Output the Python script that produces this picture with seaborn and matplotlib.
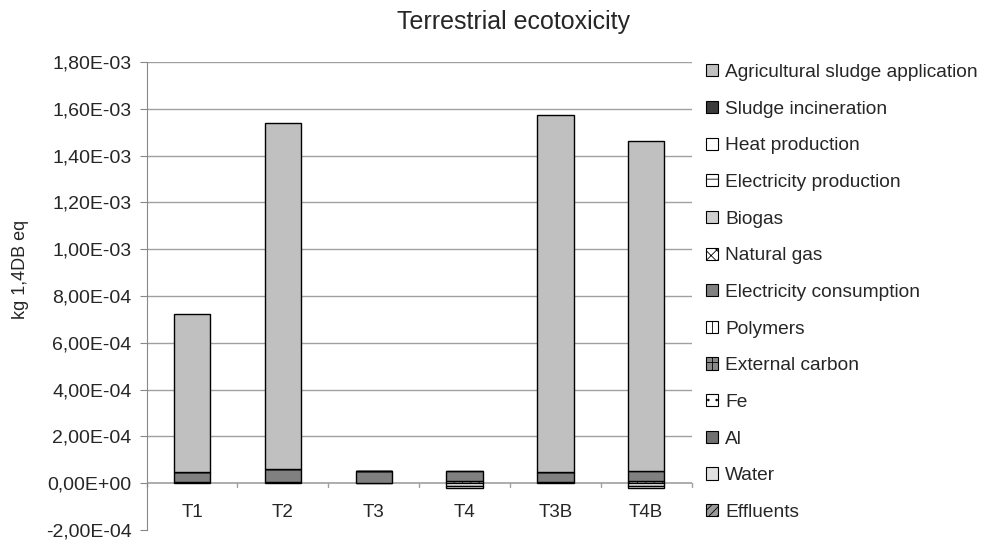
import numpy as np
import pandas as pd
import matplotlib
matplotlib.use("Agg")
import matplotlib.pyplot as plt
import seaborn as sns
from matplotlib.patches import Patch
from matplotlib.ticker import FuncFormatter

# categories and series (bottom of stack first, as in the Excel chart)
scenarios = ["T1", "T2", "T3", "T4", "T3B", "T4B"]

effluents = [0, 0, 0, 0, 0, 0]
water = [0, 0, 0, 0, 0, 0]
al = [0, 0, 0, 0, 0, 0]
fe = [0, 0, 0, 0, 0, 0]
external_carbon = [0, 0, 0, 0, 0, 0]
polymers = [4e-6, 4e-6, 2e-6, 1.0e-5, 4e-6, 1.0e-5]
electricity_consumption = [4.6e-5, 5.6e-5, 4.9e-5, 4.1e-5, 4.6e-5, 4.1e-5]
natural_gas = [0, 0, 0, 0, 0, 0]
biogas = [0, 0, 0, 0, 0, 0]
electricity_production = [0, 0, 0, -1.0e-5, 0, -1.0e-5]
heat_production = [0, 0, 0, -1.2e-5, 0, -1.2e-5]
sludge_incineration = [0, 0, 0, 0, 0, 0]
agricultural_sludge = [6.74e-4, 1.478e-3, 0, 0, 1.523e-3, 1.411e-3]

series = [
    ("Effluents", effluents, "#9a9a9a", "////"),
    ("Water", water, "#e0e0e0", None),
    ("Al", al, "#707070", None),
    ("Fe", fe, "white", ".."),
    ("External carbon", external_carbon, "#8a8a8a", "++"),
    ("Polymers", polymers, "white", "||"),
    ("Electricity consumption", electricity_consumption, "#808080", None),
    ("Natural gas", natural_gas, "white", "xxx"),
    ("Biogas", biogas, "#cfcfcf", None),
    ("Electricity production", electricity_production, "white", "--"),
    ("Heat production", heat_production, "white", None),
    ("Sludge incineration", sludge_incineration, "#3a3a3a", None),
    ("Agricultural sludge application", agricultural_sludge, "#c0c0c0", None),
]

sns.set_style("white")
plt.rcParams["font.family"] = ["Liberation Sans", "DejaVu Sans"]
plt.rcParams["hatch.linewidth"] = 0.6

fig = plt.figure(figsize=(9.81, 5.43), dpi=100)
ax = fig.add_axes([0.1495, 0.0238, 0.5555, 0.862])

pos_bottom = np.zeros(len(scenarios))
neg_bottom = np.zeros(len(scenarios))
for name, vals, color, hatch in series:
    v = np.array(vals, dtype=float)
    if not np.any(v):
        continue
    bottom = np.where(v >= 0, pos_bottom, neg_bottom)
    df = pd.DataFrame({"scenario": scenarios, "value": v})
    sns.barplot(data=df, x="scenario", y="value", order=scenarios, ax=ax,
                bottom=bottom, width=0.4, color=color, saturation=1,
                errorbar=None, edgecolor="black", linewidth=1.0,
                hatch=hatch)
    pos_bottom += np.where(v > 0, v, 0)
    neg_bottom += np.where(v < 0, v, 0)

ax.set_ylim(-2e-4, 1.8e-3)
ax.set_xlim(-0.5, len(scenarios) - 0.5)
ax.set_yticks(np.arange(-2e-4, 1.81e-3, 2e-4))
ax.yaxis.set_major_formatter(FuncFormatter(lambda v, p: f"{v:.2E}".replace(".", ",").replace("-0,00", "0,00")))
ax.tick_params(axis="y", labelsize=14, length=5, color="#888888", direction="out", left=True, pad=6)
ax.set_ylabel("")
ax.set_xlabel("")
ax.set_xticks([])
fig.text(0.021, 0.503, "kg 1,4DB eq", rotation=90, ha="center", va="center", fontsize=13)

for y in np.arange(2e-4, 1.81e-3, 2e-4):
    ax.axhline(y, color="#a0a0a0", lw=1.0, zorder=0)
ax.axhline(0, color="#a0a0a0", lw=1.2, zorder=0.5)
for xb in np.arange(-0.5, len(scenarios), 1.0):
    ax.plot([xb, xb], [0, -1.5e-5], color="#a0a0a0", lw=1.0, clip_on=False)
for i, s in enumerate(scenarios):
    ax.text(i, -1.25e-4, s, ha="center", va="center", fontsize=13.5)

for side in ["top", "right", "bottom"]:
    ax.spines[side].set_visible(False)
ax.spines["left"].set_color("#888888")

fig.text(0.523, 0.959, "Terrestrial ecotoxicity", ha="center", va="center", fontsize=18)

handles = [Patch(facecolor=c, edgecolor="black", hatch=h, lw=0.8, label=n)
           for n, _, c, h in series[::-1]]
fig.legend(handles=handles, loc="upper left", bbox_to_anchor=(0.712, 0.896),
           frameon=False, fontsize=13.8, handlelength=0.6, handleheight=0.6,
           handletextpad=0.4, labelspacing=1.025, borderaxespad=0)

fig.savefig("out.png", dpi=100)
